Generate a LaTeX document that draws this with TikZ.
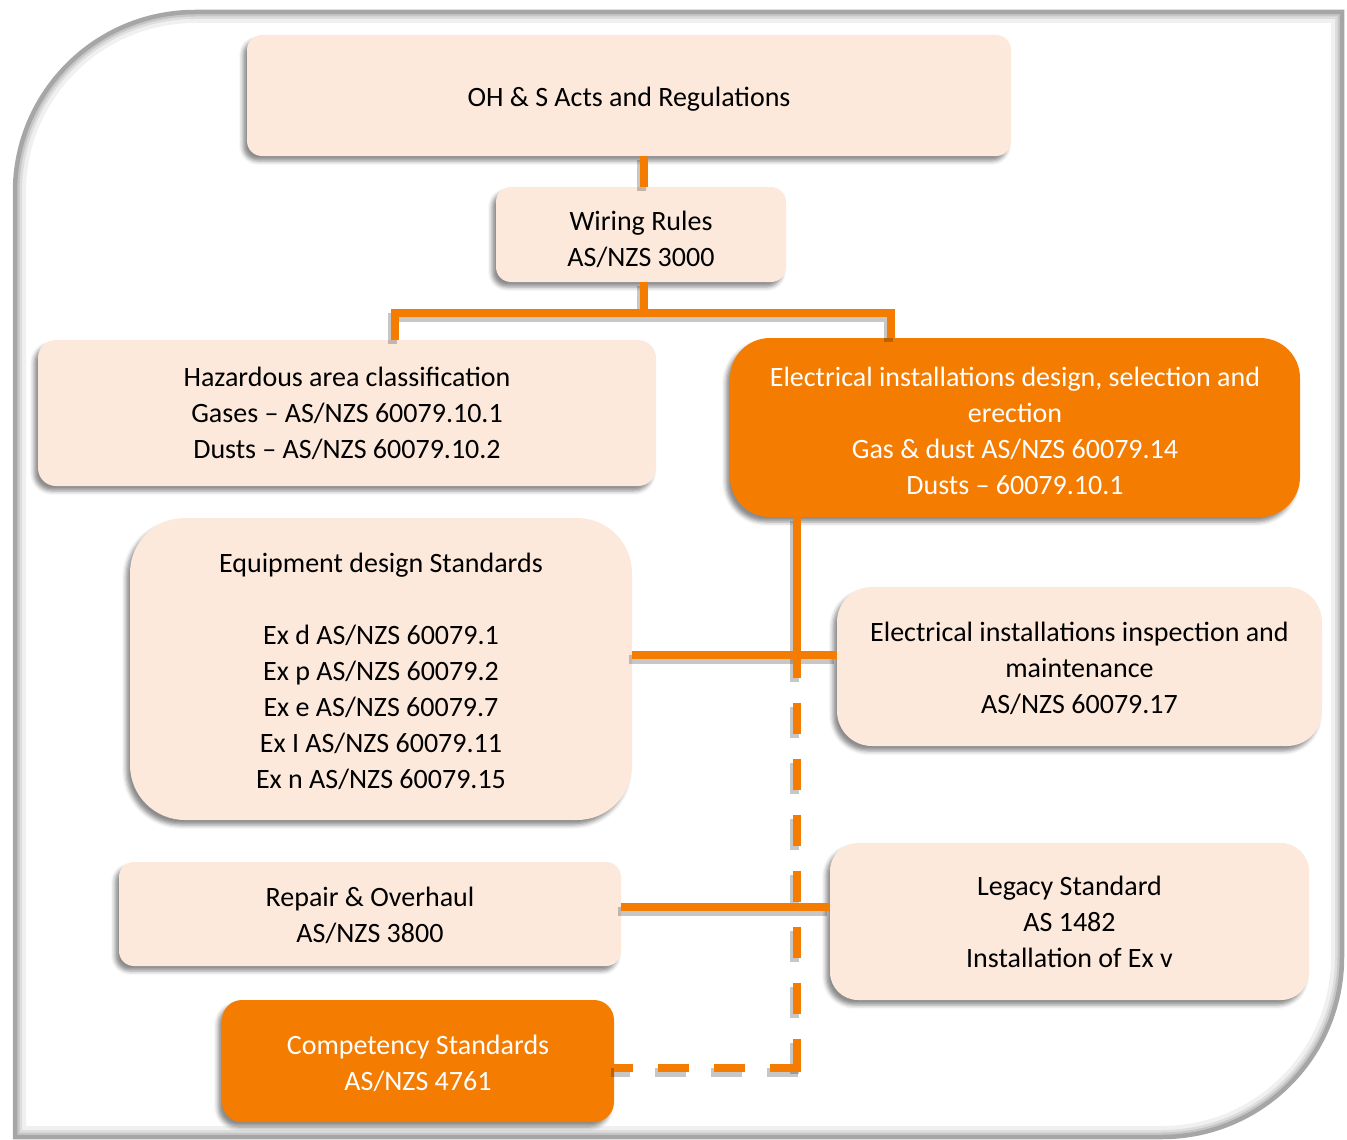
\documentclass[tikz,border=0pt]{standalone}
\usepackage{fontspec}
\setmainfont{Carlito}
\usetikzlibrary{shadows.blur}
\definecolor{peach}{HTML}{FCE9DC}
\definecolor{orangeC}{HTML}{F47C00}
\definecolor{frameG}{HTML}{A6A6A6}
\newcommand\mystrut[1]{\rule{0pt}{#1pt}}
\tikzset{
  box/.style={rectangle, rounded corners=#1, fill=peach, draw=none, align=center, inner sep=0pt,
    blur shadow={shadow xshift=-4pt, shadow yshift=-5pt, shadow blur radius=4pt, shadow opacity=45},
    font=\fontsize{28}{36}\selectfont},
  box/.default=15pt,
  obox/.style={box=#1, fill=orangeC, text=white},
  obox/.default=20pt,
  conn/.style={draw=orangeC, line width=8pt, line cap=butt, line join=miter},
  dconn/.style={conn, dash pattern=on 31pt off 25pt},
  lshadow/.style={draw=black, line width=9pt, opacity=0.22, line join=miter},
}
\begin{document}
\begin{tikzpicture}[x=1pt, y=-1pt]
\useasboundingbox (0,0) rectangle (1347,1140);
% outer frame
\def\framepath{(15,1137) -- (15,192) .. controls (15,92.6) and (95.6,12) .. (195,12) -- (1342,12) -- (1342,957) .. controls (1342,1056.4) and (1261.4,1137) .. (1162,1137) -- cycle}
\begin{scope}
  \clip \framepath;
  \draw[black, opacity=0.06, line width=22pt] \framepath;
  \draw[black, opacity=0.08, line width=14pt] \framepath;
  \draw[black, opacity=0.10, line width=9pt] \framepath;
\end{scope}
\draw[frameG, line width=4.5pt] \framepath;

% nodes
\node[box] (ohs) at (629,95.5) [minimum width=764pt, minimum height=121pt] {\mystrut{26}OH \& S Acts and Regulations};
\node[box] (wiring) at (641,234.5) [minimum width=290pt, minimum height=95pt] {\mystrut{30}Wiring Rules\\AS/NZS 3000};
\node[box=18pt] (haz) at (347,413) [minimum width=618pt, minimum height=146pt] {Hazardous area classification\\Gases – AS/NZS 60079.10.1\\Dusts – AS/NZS 60079.10.2};
\node[obox=40pt] (design) at (1015,427.5) [minimum width=570pt, minimum height=179pt] {\mystrut{26}Electrical installations design, selection and\\erection\\Gas \& dust AS/NZS 60079.14\\Dusts – 60079.10.1};
\node[box=55pt] (equip) at (381,669) [minimum width=502pt, minimum height=302pt] {\mystrut{24}Equipment design Standards\\~\\Ex d AS/NZS 60079.1\\Ex p AS/NZS 60079.2\\Ex e AS/NZS 60079.7\\Ex I AS/NZS 60079.11\\Ex n AS/NZS 60079.15};
\node[box=35pt] (insp) at (1079.5,666.5) [minimum width=485pt, minimum height=159pt] {\mystrut{24}Electrical installations inspection and\\maintenance\\AS/NZS 60079.17};
\node[box] (repair) at (370,914) [minimum width=502pt, minimum height=104pt] {\mystrut{22}Repair \& Overhaul\\AS/NZS 3800};
\node[box=28pt] (legacy) at (1069.5,921.5) [minimum width=479pt, minimum height=157pt] {Legacy Standard\\AS 1482\\Installation of Ex v};
\node[obox=20pt] (comp) at (418,1061) [minimum width=392pt, minimum height=122pt] {\mystrut{24}Competency Standards\\AS/NZS 4761};

% helper coordinates
\coordinate (trunk) at (644,0);
\coordinate (bus) at (0,313);
\coordinate (hazx) at (395,0);
\coordinate (designx) at (891,0);
\coordinate (vx) at (797,0);
\coordinate (dend) at (797,678);
\coordinate (dcorner) at (797,1072);
\coordinate (hstart) at (801,1068);
\coordinate (ey) at (0,655);
\coordinate (ry) at (0,907);

% connector shadows
\begin{scope}[transform canvas={xshift=-3pt, yshift=-4pt}]
  \draw[lshadow] (ohs.south -| trunk) -- (wiring.north -| trunk);
  \draw[lshadow] (wiring.south -| trunk) -- (trunk |- bus);
  \draw[lshadow] (haz.north -| hazx) -- (hazx |- bus) -- (designx |- bus) -- (design.north -| designx);
  \draw[lshadow] (design.south -| vx) -- (dend);
  \draw[lshadow, dash pattern=on 31pt off 25pt, dash phase=31pt] (dend) -- (dcorner);
  \draw[lshadow, dash pattern=on 31pt off 25pt] (hstart) -- (hstart -| comp.east);
  \draw[lshadow] (equip.east |- ey) -- (insp.west |- ey);
  \draw[lshadow] (repair.east |- ry) -- (legacy.west |- ry);
\end{scope}

% connectors
\draw[conn] (ohs.south -| trunk) -- (wiring.north -| trunk);
\draw[conn] (wiring.south -| trunk) -- (trunk |- bus);
\draw[conn] (haz.north -| hazx) -- (hazx |- bus) -- (designx |- bus) -- (design.north -| designx);
\draw[conn] (design.south -| vx) -- (dend);
\draw[dconn, dash phase=31pt] (dend) -- (dcorner);
\draw[dconn] (hstart) -- (hstart -| comp.east);
\draw[conn] (equip.east |- ey) -- (insp.west |- ey);
\draw[conn] (repair.east |- ry) -- (legacy.west |- ry);
\end{tikzpicture}
\end{document}
